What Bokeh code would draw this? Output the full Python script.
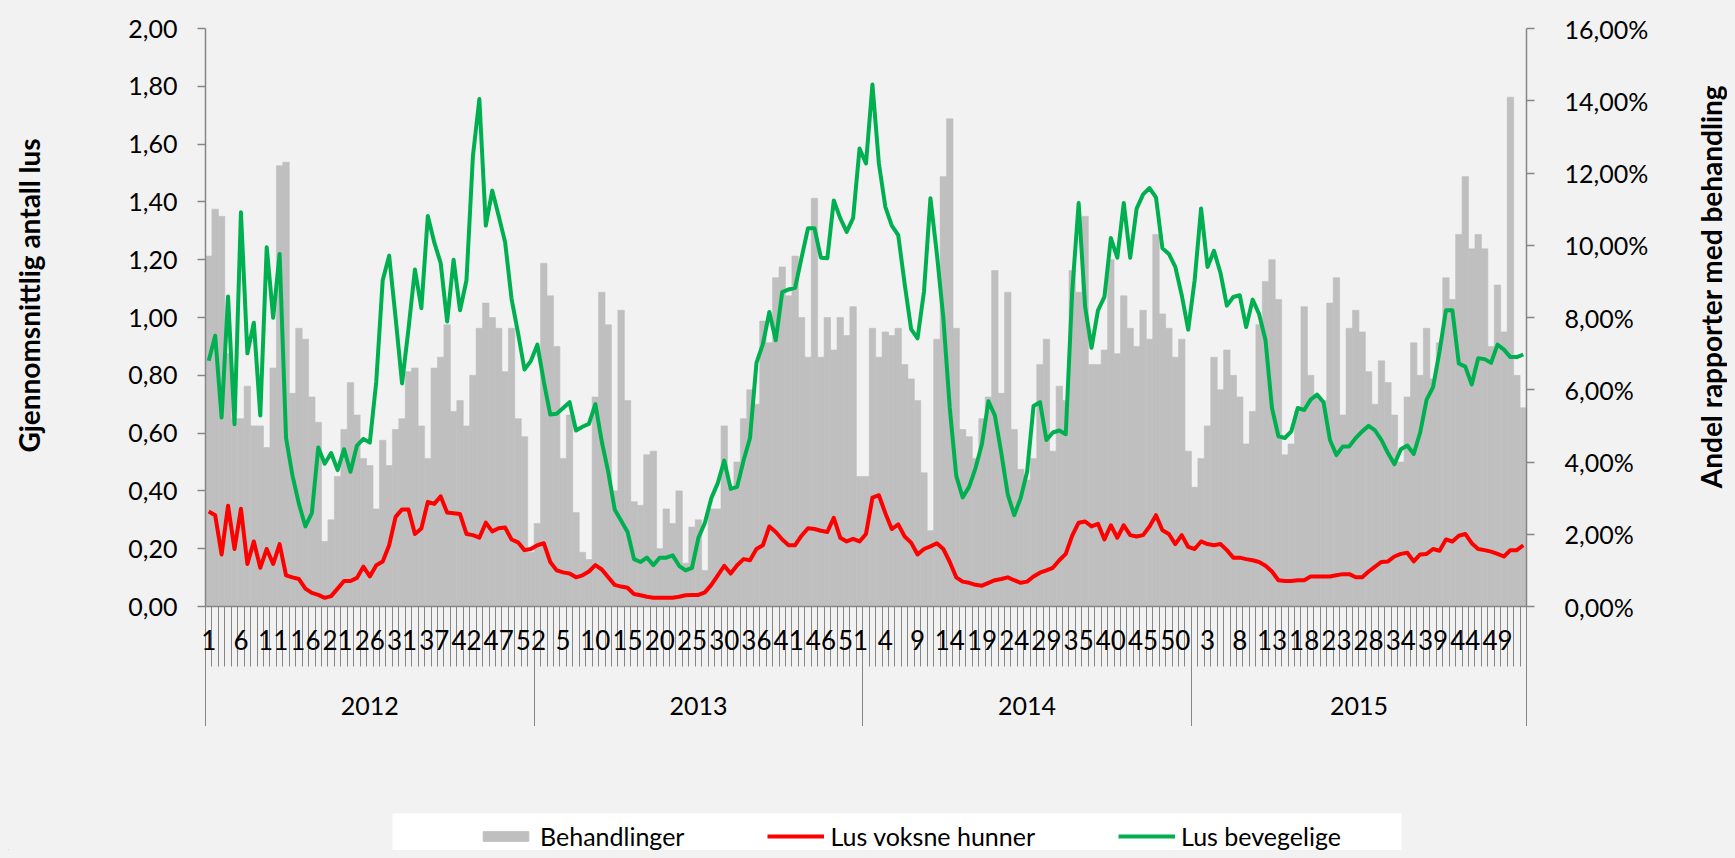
import math
from bokeh.plotting import figure
from bokeh.layouts import row, column
from bokeh.models import (Range1d, LinearAxis, FixedTicker, CustomJSTickFormatter,
                          Legend, LegendItem)
from bokeh.embed import file_html
from bokeh.resources import INLINE

# ---------------- data ----------------
years = ["2012", "2013", "2014", "2015"]
weeks_2012 = [w for w in range(1, 53) if w != 33]
weeks_2013 = [w for w in range(1, 53) if w != 33]
weeks_2014 = [w for w in range(1, 53) if w != 33]
weeks_2015 = [w for w in range(1, 54) if w != 33]

# Andel rapporter med behandling (%), right axis
beh_2012 = [9.7, 11.0, 10.8, 7.0, 5.2, 5.2, 6.1, 5.0, 5.0, 4.4,
            6.6, 12.2, 12.3, 5.9, 7.7, 7.4, 5.8, 5.1, 1.8, 2.4,
            3.6, 4.9, 6.2, 5.3, 4.1, 3.9, 2.7, 4.6, 3.9, 4.9,
            5.2, 6.5, 6.6, 5.0, 4.1, 6.6, 6.9, 7.8, 5.4, 5.7,
            5.0, 6.4, 7.7, 8.4, 8.0, 7.7, 6.5, 7.7, 5.2, 4.7,
            1.5]
beh_2013 = [2.3, 9.5, 8.6, 7.2, 4.1, 5.3, 2.6, 1.5, 1.3, 5.8,
            8.7, 7.8, 3.2, 8.2, 5.7, 2.9, 2.8, 4.2, 4.3, 1.6,
            2.7, 2.3, 3.2, 1.2, 2.2, 2.4, 1.0, 2.7, 2.7, 5.0,
            3.3, 4.0, 5.2, 6.0, 5.6, 7.9, 7.3, 9.1, 9.4, 8.6,
            9.7, 8.0, 6.9, 11.3, 6.9, 8.0, 7.1, 8.0, 7.5, 8.3,
            3.6]
beh_2014 = [3.6, 7.7, 6.9, 7.6, 7.5, 7.7, 6.7, 6.3, 5.7, 3.7,
            2.1, 7.4, 11.9, 13.5, 7.7, 4.9, 4.7, 4.1, 5.2, 5.8,
            9.3, 5.9, 8.7, 4.9, 3.8, 3.5, 4.1, 6.7, 7.4, 4.3,
            6.1, 5.7, 9.3, 8.7, 10.8, 6.7, 6.7, 7.1, 9.6, 7.0,
            8.6, 7.7, 7.2, 8.2, 7.4, 10.3, 8.1, 7.7, 6.9, 7.4,
            4.3]
beh_2015 = [3.3, 4.1, 5.0, 6.9, 6.0, 7.1, 6.4, 5.8, 4.5, 5.4,
            7.8, 9.0, 9.6, 8.5, 4.2, 4.5, 5.4, 8.3, 6.4, 5.8,
            5.7, 8.4, 9.1, 5.3, 7.7, 8.2, 7.6, 6.5, 5.6, 6.8,
            6.2, 5.3, 4.0, 5.8, 7.3, 6.4, 7.7, 6.3, 7.3, 9.1,
            8.5, 10.3, 11.9, 9.9, 10.3, 9.9, 7.2, 8.9, 7.6, 14.1,
            6.4, 5.5]

# Lus voksne hunner (left axis)
voksne_2012 = [0.329, 0.316, 0.18, 0.349, 0.199, 0.338, 0.147, 0.225, 0.134, 0.199,
               0.147, 0.216, 0.108, 0.101, 0.095, 0.062, 0.047, 0.04, 0.03, 0.036,
               0.062, 0.088, 0.088, 0.099, 0.138, 0.104, 0.143, 0.156, 0.212, 0.31,
               0.336, 0.336, 0.251, 0.27, 0.362, 0.355, 0.381, 0.325, 0.323, 0.32,
               0.251, 0.247, 0.238, 0.29, 0.26, 0.271, 0.273, 0.232, 0.222, 0.195,
               0.199]
voksne_2013 = [0.212, 0.219, 0.154, 0.125, 0.118, 0.114, 0.101, 0.108, 0.121, 0.143,
               0.128, 0.101, 0.075, 0.069, 0.065, 0.043, 0.039, 0.034, 0.03, 0.03,
               0.03, 0.03, 0.034, 0.039, 0.04, 0.04, 0.049, 0.075, 0.108, 0.141,
               0.114, 0.143, 0.164, 0.16, 0.199, 0.212, 0.277, 0.258, 0.232, 0.212,
               0.212, 0.245, 0.271, 0.268, 0.262, 0.258, 0.307, 0.238, 0.225, 0.234,
               0.225]
voksne_2014 = [0.251, 0.377, 0.385, 0.323, 0.268, 0.284, 0.242, 0.221, 0.18, 0.199,
               0.208, 0.219, 0.199, 0.154, 0.101, 0.086, 0.082, 0.075, 0.072, 0.082,
               0.091, 0.095, 0.101, 0.091, 0.082, 0.086, 0.104, 0.117, 0.125, 0.134,
               0.16, 0.182, 0.245, 0.29, 0.294, 0.277, 0.286, 0.232, 0.281, 0.238,
               0.281, 0.247, 0.242, 0.247, 0.277, 0.316, 0.264, 0.251, 0.216, 0.247,
               0.206]
voksne_2015 = [0.199, 0.225, 0.216, 0.212, 0.216, 0.195, 0.169, 0.169, 0.164, 0.16,
               0.154, 0.141, 0.121, 0.091, 0.088, 0.088, 0.091, 0.091, 0.104, 0.104,
               0.104, 0.104, 0.108, 0.112, 0.112, 0.101, 0.101, 0.121, 0.138, 0.154,
               0.156, 0.173, 0.182, 0.186, 0.156, 0.18, 0.182, 0.199, 0.193, 0.232,
               0.225, 0.245, 0.251, 0.219, 0.199, 0.195, 0.19, 0.182, 0.173, 0.195,
               0.195, 0.212]

# Lus bevegelige (left axis)
bevegelige_2012 = [0.85, 0.937, 0.654, 1.073, 0.631, 1.364, 0.876, 0.982, 0.661, 1.243,
                   0.999, 1.22, 0.583, 0.453, 0.355, 0.277, 0.323, 0.55, 0.494, 0.531,
                   0.472, 0.544, 0.466, 0.557, 0.58, 0.567, 0.778, 1.129, 1.214, 0.999,
                   0.772, 0.96, 1.166, 1.032, 1.351, 1.26, 1.188, 0.986, 1.2, 1.025,
                   1.129, 1.559, 1.756, 1.318, 1.439, 1.351, 1.26, 1.064, 0.947, 0.82,
                   0.85]
bevegelige_2013 = [0.906, 0.778, 0.664, 0.667, 0.687, 0.707, 0.609, 0.622, 0.632, 0.7,
                   0.57, 0.466, 0.336, 0.297, 0.258, 0.164, 0.154, 0.169, 0.143, 0.169,
                   0.169, 0.177, 0.141, 0.125, 0.134, 0.238, 0.29, 0.375, 0.427, 0.505,
                   0.407, 0.414, 0.505, 0.583, 0.843, 0.908, 1.019, 0.921, 1.088, 1.097,
                   1.103, 1.207, 1.309, 1.309, 1.207, 1.205, 1.405, 1.344, 1.296, 1.344,
                   1.585]
bevegelige_2014 = [1.533, 1.806, 1.533, 1.383, 1.318, 1.285, 1.116, 0.96, 0.928, 1.09,
                   1.413, 1.22, 0.999, 0.687, 0.453, 0.377, 0.414, 0.479, 0.563, 0.71,
                   0.661, 0.531, 0.388, 0.316, 0.375, 0.466, 0.694, 0.707, 0.576, 0.602,
                   0.609, 0.596, 1.09, 1.396, 1.038, 0.895, 1.025, 1.071, 1.275, 1.207,
                   1.396, 1.207, 1.377, 1.426, 1.448, 1.416, 1.24, 1.22, 1.175, 1.077,
                   0.958]
bevegelige_2015 = [1.129, 1.377, 1.175, 1.231, 1.155, 1.041, 1.071, 1.077, 0.967, 1.062,
                   1.012, 0.921, 0.687, 0.589, 0.583, 0.606, 0.687, 0.68, 0.716, 0.733,
                   0.707, 0.576, 0.524, 0.554, 0.554, 0.583, 0.606, 0.625, 0.609, 0.576,
                   0.531, 0.492, 0.544, 0.557, 0.528, 0.602, 0.716, 0.759, 0.882, 1.025,
                   1.025, 0.841, 0.83, 0.768, 0.859, 0.856, 0.843, 0.906, 0.889, 0.863,
                   0.863, 0.872]

left_ticks = [0.0, 0.2, 0.4, 0.6, 0.8, 1.0, 1.2, 1.4, 1.6, 1.8, 2.0]
right_ticks = [0, 2, 4, 6, 8, 10, 12, 14, 16]
label_every = 5
left_title = "Gjennomsnittlig antall lus"
right_title = "Andel rapporter med behandling"
series_names = ["Behandlinger", "Lus voksne hunner", "Lus bevegelige"]

# ---------------- assemble ----------------
weeks = weeks_2012 + weeks_2013 + weeks_2014 + weeks_2015
beh = beh_2012 + beh_2013 + beh_2014 + beh_2015
voksne = voksne_2012 + voksne_2013 + voksne_2014 + voksne_2015
bevegelige = bevegelige_2012 + bevegelige_2013 + bevegelige_2014 + bevegelige_2015
n = len(weeks)
xs = [i + 0.5 for i in range(n)]
year_sizes = [len(weeks_2012), len(weeks_2013), len(weeks_2014), len(weeks_2015)]
year_bounds = [0]
for s in year_sizes:
    year_bounds.append(year_bounds[-1] + s)
year_centers = [(year_bounds[k] + year_bounds[k + 1]) / 2 for k in range(4)]

FONT = "Lato"
AXIS_GRAY = "#868686"
BG = "#F2F2F2"
BAR_C = "#BFBFBF"
RED_C = "#FF0000"
GREEN_C = "#00B050"
TOTAL_W = 1719
TOTAL_H = 842
LEFT_W = 107
MAIN_BL = 90
MAIN_BR = 130
RIGHT_W = TOTAL_W - LEFT_W - MAIN_BL - 1321 - MAIN_BR
MAIN_BB = 120
MAIN_H = 20 + 578 + MAIN_BB
LEG_H = TOTAL_H - MAIN_H

p = figure(frame_width=1321, frame_height=578,
           x_range=Range1d(0, n), y_range=Range1d(0, 2),
           output_backend="svg", toolbar_location=None, tools="",
           x_axis_location=None,
           min_border_left=MAIN_BL, min_border_right=MAIN_BR,
           min_border_top=20, min_border_bottom=MAIN_BB,
           background_fill_color=BG, border_fill_color=BG,
           outline_line_color=None)
p.extra_y_ranges = {"pct": Range1d(0, 16)}
p.grid.visible = False

bars = p.vbar(x=xs, top=beh, width=1.0, y_range_name="pct",
              fill_color=BAR_C, line_color=BAR_C, line_width=0.6)
red = p.line(xs, voksne, line_color=RED_C, line_width=4, line_join="round")
green = p.line(xs, bevegelige, line_color=GREEN_C, line_width=4, line_join="round")


def style_y(ax, standoff):
    ax.axis_line_color = AXIS_GRAY
    ax.axis_line_width = 1.5
    ax.major_tick_line_color = AXIS_GRAY
    ax.major_tick_line_width = 1.5
    ax.major_tick_out = 8
    ax.major_tick_in = 0
    ax.minor_tick_line_color = None
    ax.minor_tick_out = 0
    ax.minor_tick_in = 0
    ax.major_label_text_font = FONT
    ax.major_label_text_font_size = "25px"
    ax.major_label_text_color = "#000000"
    ax.major_label_standoff = standoff


ya = p.yaxis[0]
ya.ticker = FixedTicker(ticks=left_ticks, minor_ticks=[])
ya.formatter = CustomJSTickFormatter(code="return tick.toFixed(2).replace('.', ',');")
style_y(ya, 20)

ra = LinearAxis(y_range_name="pct",
                ticker=FixedTicker(ticks=right_ticks, minor_ticks=[]),
                formatter=CustomJSTickFormatter(code="return tick.toFixed(2).replace('.', ',') + '%';"))
style_y(ra, 30)
p.add_layout(ra, "right")

# x axis level 1: weeks
label_pos = [i + 0.5 for i in range(0, n, label_every)]
week_labels = [str(w) for w in weeks]
xa1 = LinearAxis(ticker=FixedTicker(ticks=label_pos, minor_ticks=list(range(n + 1))),
                 formatter=CustomJSTickFormatter(args=dict(labels=week_labels),
                                                 code="return labels[Math.round(tick - 0.5)];"))
xa1.axis_line_color = AXIS_GRAY
xa1.axis_line_width = 1.5
xa1.major_tick_out = 0
xa1.major_tick_in = 0
xa1.major_tick_line_color = None
xa1.minor_tick_out = 60
xa1.minor_tick_in = 0
xa1.minor_tick_line_color = AXIS_GRAY
xa1.minor_tick_line_width = 1
xa1.major_label_text_font = FONT
xa1.major_label_text_font_size = "26px"
xa1.major_label_text_color = "#000000"
xa1.major_label_standoff = -37
p.add_layout(xa1, "below")

# x axis level 2: years
xa2 = LinearAxis(ticker=FixedTicker(ticks=year_centers, minor_ticks=year_bounds),
                 formatter=CustomJSTickFormatter(args=dict(names=years, centers=year_centers),
                                                 code="""
let best = 0;
for (let k = 0; k < centers.length; k++) {
  if (Math.abs(centers[k] - tick) < Math.abs(centers[best] - tick)) best = k;
}
return names[best];
"""))
xa2.axis_line_color = None
xa2.major_tick_out = 0
xa2.major_tick_in = 0
xa2.major_tick_line_color = None
xa2.minor_tick_out = 74
xa2.minor_tick_in = 0
xa2.minor_tick_line_color = AXIS_GRAY
xa2.minor_tick_line_width = 1
xa2.major_label_text_font = FONT
xa2.major_label_text_font_size = "25px"
xa2.major_label_text_color = "#000000"
xa2.major_label_standoff = -30
p.add_layout(xa2, "below")


# side panels carrying the rotated axis titles (as axis labels, reading bottom-to-top)
def side_panel(width, height, border_left, label_standoff, center_y, text):
    fh = 2 * center_y
    f = figure(frame_width=width - border_left, frame_height=fh,
               x_range=Range1d(0, 1), y_range=Range1d(0, 1), title=None,
               output_backend="svg", toolbar_location=None, tools="",
               x_axis_location=None, y_axis_location=None,
               min_border_left=border_left, min_border_right=0,
               min_border_top=0, min_border_bottom=height - fh,
               background_fill_color=BG, border_fill_color=BG,
               outline_line_color=None)
    f.grid.visible = False
    ax = LinearAxis(ticker=FixedTicker(ticks=[], minor_ticks=[]), axis_label=text)
    ax.axis_line_color = None
    ax.major_tick_line_color = None
    ax.minor_tick_line_color = None
    ax.major_tick_out = 0
    ax.major_tick_in = 0
    ax.minor_tick_out = 0
    ax.minor_tick_in = 0
    ax.major_label_standoff = 0
    ax.axis_label_standoff = label_standoff
    ax.axis_label_text_font = FONT
    ax.axis_label_text_font_style = "bold"
    ax.axis_label_text_font_size = "28px"
    ax.axis_label_text_color = "#000000"
    f.add_layout(ax, "left")
    return f


pl = side_panel(LEFT_W, MAIN_H, 45, 8, 267, left_title)
pr = side_panel(RIGHT_W, MAIN_H, RIGHT_W - 1, -1, 258, right_title)

# legend strip below
lf = figure(frame_width=TOTAL_W, frame_height=LEG_H,
            x_range=Range1d(0, TOTAL_W), y_range=Range1d(0, LEG_H), title=None,
            output_backend="svg", toolbar_location=None, tools="",
            x_axis_location=None, y_axis_location=None, min_border=0,
            background_fill_color=BG, border_fill_color=BG, outline_line_color=None)
lf.grid.visible = False
box_top = LEG_H - (805 - MAIN_H)
lf.quad(left=[384], right=[1393], top=[box_top], bottom=[-5],
        fill_color="#FFFFFF", line_color=None)
# legend-only renderers (placed outside the visible range)
lb = lf.vbar(x=[-1000], top=[1], width=1, fill_color=BAR_C, line_color=BAR_C)
lr = lf.line(x=[-1000, -990], y=[1, 1], line_color=RED_C, line_width=4)
lg = lf.line(x=[-1000, -990], y=[1, 1], line_color=GREEN_C, line_width=4)
legend = Legend(items=[LegendItem(label=series_names[0], renderers=[lb]),
                       LegendItem(label=series_names[1], renderers=[lr]),
                       LegendItem(label=series_names[2], renderers=[lg])],
                orientation="horizontal", location=(469, -1),
                background_fill_alpha=0.0, border_line_color=None,
                label_text_font=FONT, label_text_font_size="25px",
                label_text_color="#000000",
                glyph_width=57, glyph_height=12, label_standoff=6,
                spacing=83, padding=0, margin=0)
lf.add_layout(legend, "center")

layout = column(row(pl, p, pr, spacing=0), lf, spacing=0)

html = file_html(layout, INLINE)
html = html.replace("</head>", "<style>html,body{background:#F2F2F2;overflow:hidden;}body{margin:8px;}</style></head>", 1)
open("out.html", "w").write(html)
